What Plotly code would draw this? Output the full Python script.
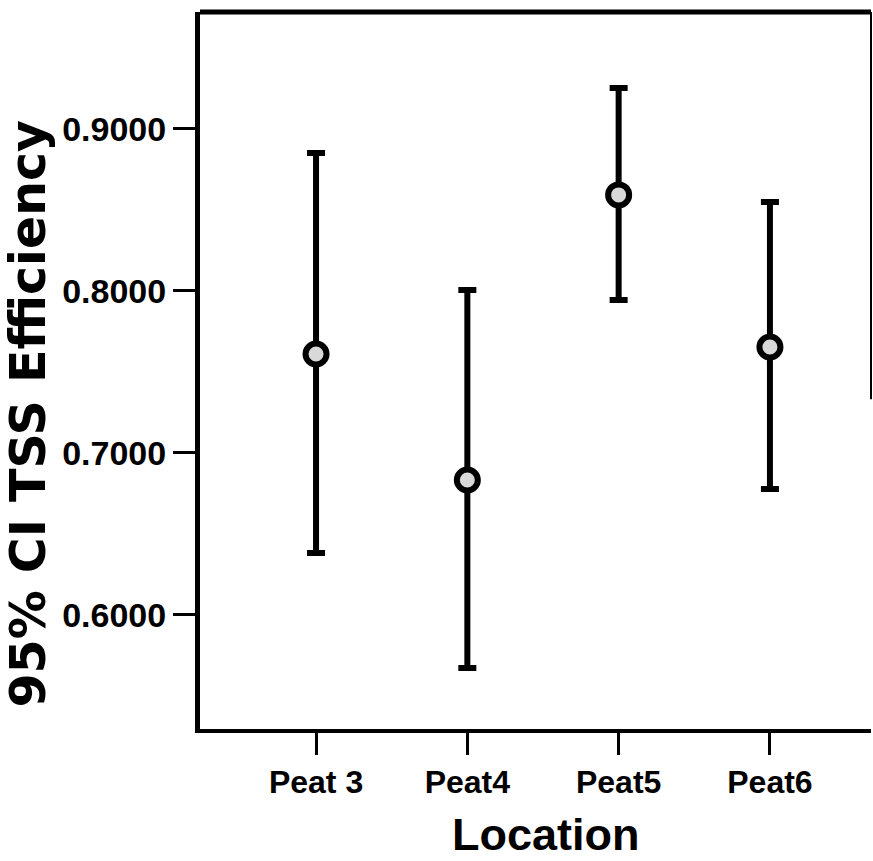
import plotly.graph_objects as go

# Data
locations = ["Peat 3", "Peat4", "Peat5", "Peat6"]
mean_eff = [0.7611, 0.6833, 0.8593, 0.7654]
upper_ci = [0.8852, 0.8006, 0.9253, 0.8549]
lower_ci = [0.6383, 0.5673, 0.7944, 0.6778]
y_tickvals = [0.6, 0.7, 0.8, 0.9]
y_ticktext = ["0.6000", "0.7000", "0.8000", "0.9000"]

x_pos = list(range(len(locations)))
err_plus = [u - m for u, m in zip(upper_ci, mean_eff)]
err_minus = [m - l for m, l in zip(mean_eff, lower_ci)]

fig = go.Figure()
fig.add_trace(go.Scatter(
    x=x_pos, y=mean_eff, mode="markers",
    marker=dict(symbol="circle", size=21, color="#d9d9d9",
                line=dict(color="black", width=6)),
    error_y=dict(type="data", symmetric=False, array=err_plus,
                 arrayminus=err_minus, color="black", thickness=6, width=9),
    showlegend=False,
))

FONT = "Liberation Sans, Arial, sans-serif"

fig.update_layout(
    width=873, height=861,
    margin=dict(l=200, r=2, t=12, b=132),
    paper_bgcolor="white", plot_bgcolor="white",
    xaxis=dict(
        range=[-0.767, 3.668], tickvals=x_pos, ticktext=locations,
        showgrid=False, zeroline=False,
        showline=True, linecolor="black", linewidth=4,
        ticks="outside", ticklen=22, tickwidth=3, tickcolor="black",
        tickfont=dict(family=FONT, size=32, color="black", weight="bold"),
    ),
    yaxis=dict(
        range=[0.5296, 0.9722], tickvals=y_tickvals, ticktext=y_ticktext,
        showgrid=False, zeroline=False,
        showline=True, linecolor="black", linewidth=5,
        ticks="outside", ticklen=22, tickwidth=3, tickcolor="black",
        tickfont=dict(family=FONT, size=34, color="black", weight="bold"),
    ),
    shapes=[
        dict(type="line", xref="paper", yref="paper", x0=0, x1=1, y0=1, y1=1,
             line=dict(color="black", width=5)),
        dict(type="line", xref="paper", yref="paper", x0=1, x1=1, y0=0.46, y1=1,
             line=dict(color="black", width=2)),
    ],
    annotations=[
        dict(text="Location", xref="paper", yref="paper", x=0.5156, y=0,
             yshift=-78, xanchor="center", yanchor="top", showarrow=False,
             font=dict(family=FONT, size=45, color="black", weight="bold")),
        dict(text="95% CI TSS Efficiency", xref="paper", yref="paper",
             x=0, y=0.44, xshift=-171, xanchor="center", yanchor="middle",
             textangle=-90, showarrow=False,
             font=dict(family="DejaVu Sans, sans-serif", size=49,
                       color="black", weight="bold")),
    ],
)

fig.write_html("out.html")
